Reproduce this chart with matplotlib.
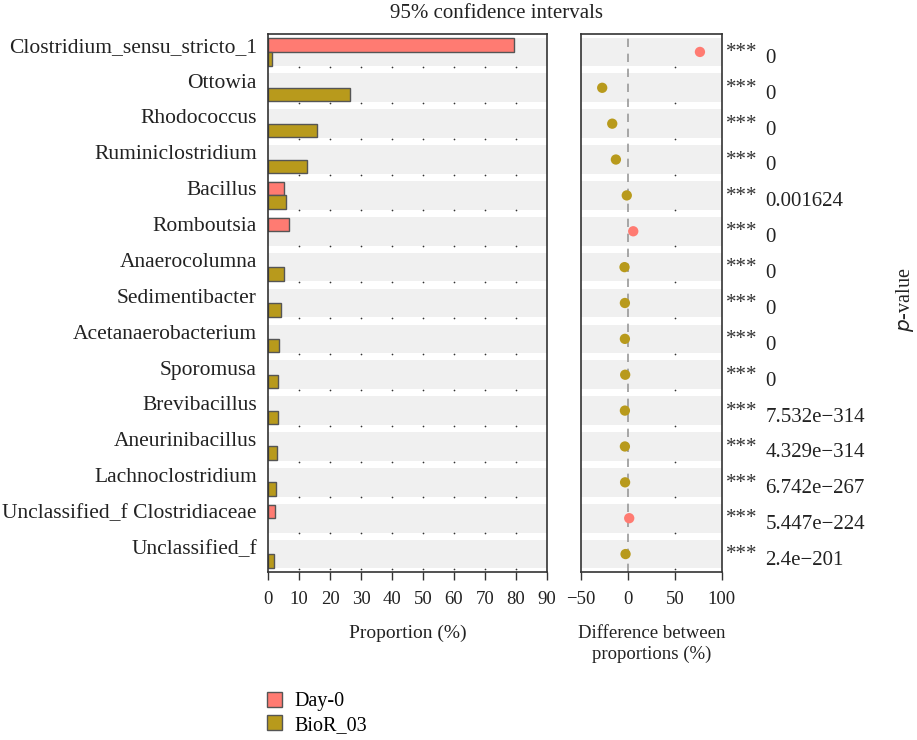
import matplotlib
matplotlib.use("Agg")
import matplotlib.pyplot as plt
from matplotlib.patches import Patch
import numpy as np

plt.rcParams['font.family'] = ['Liberation Serif', 'DejaVu Serif']

# data
taxa = ["Clostridium_sensu_stricto_1", "Ottowia", "Rhodococcus", "Ruminiclostridium",
        "Bacillus", "Romboutsia", "Anaerocolumna", "Sedimentibacter",
        "Acetanaerobacterium", "Sporomusa", "Brevibacillus", "Aneurinibacillus",
        "Lachnoclostridium", "Unclassified_f Clostridiaceae", "Unclassified_f"]
day0 = [79.5, 0, 0, 0, 5.3, 6.9, 0, 0, 0, 0, 0, 0, 0, 2.4, 0]
bior03 = [1.3, 26.5, 15.9, 12.6, 5.7, 0, 5.3, 4.2, 3.7, 3.2, 3.1, 3.0, 2.6, 0, 2.0]
diff = [76.8, -27.4, -16.7, -12.8, -1.2, 5.7, -3.6, -3.2, -3.2, -2.9, -3.2, -3.2, -3.0, 1.4, -2.5]
stars = ["***"] * 15
pvals = ["0", "0", "0", "0", "0.001624", "0", "0", "0", "0", "0",
         "7.532e\u2212314", "4.329e\u2212314", "6.742e\u2212267", "5.447e\u2212224", "2.4e\u2212201"]

c_day0 = "#FF7B72"
c_bior = "#B89A1C"
band = "#F0F0F0"
edge = "#555555"

fig = plt.figure(figsize=(9.17, 7.4), dpi=100)
ax1 = fig.add_axes([268/917, 1-572/740, 279/917, 538/740])
ax2 = fig.add_axes([581/917, 1-572/740, 140.7/917, 538/740])

n = len(taxa)
y = np.arange(n)

for ax, xlim in ((ax1, (0, 90)), (ax2, (-50, 100))):
    ax.set_xlim(*xlim)
    ax.set_ylim(n - 0.5, -0.5)
    for i in y:
        ax.axhspan(i - 0.4, i + 0.4, color=band, lw=0, zorder=0)
    for s in ax.spines.values():
        s.set_color("#333333")
        s.set_linewidth(1.2)
    ax.tick_params(axis="x", direction="out", length=6, width=1, colors="#333333",
                   labelsize=13.5, labelcolor="#222222", pad=8)

# left panel: proportions (zero values are not drawn)
d0 = np.array(day0, dtype=float)
b3 = np.array(bior03, dtype=float)
m0 = d0 > 0
m3 = b3 > 0
ax1.barh(y[m0] - 0.19, d0[m0], height=0.38, color=c_day0, edgecolor=edge, lw=1, zorder=2)
ax1.barh(y[m3] + 0.19, b3[m3], height=0.38, color=c_bior, edgecolor=edge, lw=1, zorder=2)
ax1.set_xticks(np.arange(0, 91, 10))
ax1.set_yticks(y - 0.2)
ax1.set_yticklabels(taxa, fontsize=15.5, color="#222222")
ax1.tick_params(axis="y", length=0, pad=8)
gx = np.arange(10, 81, 10)
gxx, gyy = np.meshgrid(gx, y + 0.42)
ax1.scatter(gxx.ravel(), gyy.ravel(), s=1.5, color="#333333", lw=0, zorder=1)
ax1.set_xlabel("Proportion (%)", fontsize=14, color="#222222", labelpad=12)

# right panel: differences
ax2.axvline(0, color="#999999", ls=(0, (5, 4)), lw=1.2, zorder=1)
dcol = [c_day0 if d > 0 else c_bior for d in diff]
ax2.scatter(diff, y, s=55, color=dcol, lw=0, zorder=3)
ax2.scatter(np.full(n, 50), y + 0.42, s=1.5, color="#333333", lw=0, zorder=1)
ax2.set_xticks([-50, 0, 50, 100])
ax2.set_xticklabels(["\u221250", "0", "50", "100"])
ax2.set_yticks([])
ax2.set_xlabel("Difference between\nproportions (%)", fontsize=13.5, color="#222222",
               labelpad=12, linespacing=1.25)

for i in y:
    ax2.text(1.03, i + 0.02, stars[i], transform=ax2.get_yaxis_transform(),
             fontsize=15, color="#333333", va="center", ha="left", clip_on=False)
    ax2.text(1.31, i + 0.18, pvals[i], transform=ax2.get_yaxis_transform(),
             fontsize=15, color="#222222", va="center", ha="left", clip_on=False)

fig.text(905/917, 1-300/740, "$p$-value", rotation=90, ha="center", va="center",
         fontsize=14.5, color="#222222")
fig.text(496/917, 1-14/740, "95% confidence intervals", ha="center", va="center",
         fontsize=15, color="#222222")

handles = [Patch(facecolor=c_day0, edgecolor=edge, label="Day-0"),
           Patch(facecolor=c_bior, edgecolor=edge, label="BioR_03")]
fig.legend(handles=handles, loc="upper left", bbox_to_anchor=(259/917, 1-684/740),
           frameon=False, fontsize=14.5, handlelength=0.75, handleheight=0.75,
           handletextpad=0.6, labelspacing=0.2, borderaxespad=0)

fig.savefig("out.png", dpi=100)
